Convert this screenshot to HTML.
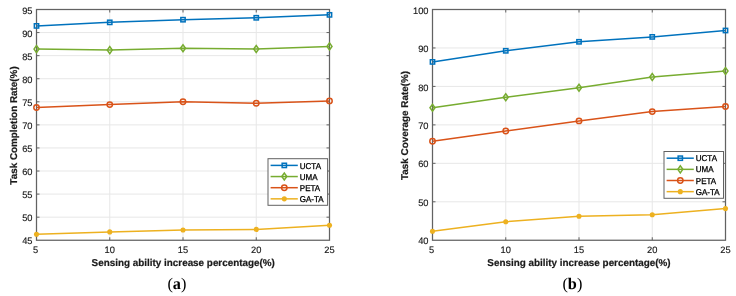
<!DOCTYPE html>
<html><head><meta charset="utf-8"><style>
html,body{margin:0;padding:0;background:#fff;}
body{width:736px;height:296px;overflow:hidden;}
svg{display:block;will-change:transform;text-rendering:geometricPrecision;}
.tk{font-family:"Liberation Sans",sans-serif;font-size:9.3px;fill:#1a1a1a;stroke:#1a1a1a;stroke-width:0.15px;}
.lb{font-family:"Liberation Sans",sans-serif;font-size:9.9px;font-weight:bold;fill:#1a1a1a;stroke:#1a1a1a;stroke-width:0.2px;}
.lg{font-family:"Liberation Sans",sans-serif;font-size:8.5px;fill:#000;stroke:#000;stroke-width:0.3px;}
.cap{font-family:"Liberation Serif",serif;font-size:16.3px;fill:#000;}
</style></head><body>
<svg width="736" height="296" viewBox="0 0 736 296">
<rect width="736" height="296" fill="#fff"/>
<line x1="109.75" y1="9.5" x2="109.75" y2="240.25" stroke="#e7e7e7" stroke-width="1"/>
<line x1="183.00" y1="9.5" x2="183.00" y2="240.25" stroke="#e7e7e7" stroke-width="1"/>
<line x1="256.25" y1="9.5" x2="256.25" y2="240.25" stroke="#e7e7e7" stroke-width="1"/>
<line x1="36.5" y1="217.18" x2="329.5" y2="217.18" stroke="#e7e7e7" stroke-width="1"/>
<line x1="36.5" y1="194.10" x2="329.5" y2="194.10" stroke="#e7e7e7" stroke-width="1"/>
<line x1="36.5" y1="171.03" x2="329.5" y2="171.03" stroke="#e7e7e7" stroke-width="1"/>
<line x1="36.5" y1="147.95" x2="329.5" y2="147.95" stroke="#e7e7e7" stroke-width="1"/>
<line x1="36.5" y1="124.88" x2="329.5" y2="124.88" stroke="#e7e7e7" stroke-width="1"/>
<line x1="36.5" y1="101.80" x2="329.5" y2="101.80" stroke="#e7e7e7" stroke-width="1"/>
<line x1="36.5" y1="78.72" x2="329.5" y2="78.72" stroke="#e7e7e7" stroke-width="1"/>
<line x1="36.5" y1="55.65" x2="329.5" y2="55.65" stroke="#e7e7e7" stroke-width="1"/>
<line x1="36.5" y1="32.57" x2="329.5" y2="32.57" stroke="#e7e7e7" stroke-width="1"/>
<line x1="109.75" y1="240.25" x2="109.75" y2="237.25" stroke="#626262" stroke-width="1"/>
<line x1="109.75" y1="9.5" x2="109.75" y2="12.5" stroke="#626262" stroke-width="1"/>
<line x1="183.00" y1="240.25" x2="183.00" y2="237.25" stroke="#626262" stroke-width="1"/>
<line x1="183.00" y1="9.5" x2="183.00" y2="12.5" stroke="#626262" stroke-width="1"/>
<line x1="256.25" y1="240.25" x2="256.25" y2="237.25" stroke="#626262" stroke-width="1"/>
<line x1="256.25" y1="9.5" x2="256.25" y2="12.5" stroke="#626262" stroke-width="1"/>
<line x1="36.5" y1="217.18" x2="39.5" y2="217.18" stroke="#626262" stroke-width="1"/>
<line x1="329.5" y1="217.18" x2="326.5" y2="217.18" stroke="#626262" stroke-width="1"/>
<line x1="36.5" y1="194.10" x2="39.5" y2="194.10" stroke="#626262" stroke-width="1"/>
<line x1="329.5" y1="194.10" x2="326.5" y2="194.10" stroke="#626262" stroke-width="1"/>
<line x1="36.5" y1="171.03" x2="39.5" y2="171.03" stroke="#626262" stroke-width="1"/>
<line x1="329.5" y1="171.03" x2="326.5" y2="171.03" stroke="#626262" stroke-width="1"/>
<line x1="36.5" y1="147.95" x2="39.5" y2="147.95" stroke="#626262" stroke-width="1"/>
<line x1="329.5" y1="147.95" x2="326.5" y2="147.95" stroke="#626262" stroke-width="1"/>
<line x1="36.5" y1="124.88" x2="39.5" y2="124.88" stroke="#626262" stroke-width="1"/>
<line x1="329.5" y1="124.88" x2="326.5" y2="124.88" stroke="#626262" stroke-width="1"/>
<line x1="36.5" y1="101.80" x2="39.5" y2="101.80" stroke="#626262" stroke-width="1"/>
<line x1="329.5" y1="101.80" x2="326.5" y2="101.80" stroke="#626262" stroke-width="1"/>
<line x1="36.5" y1="78.72" x2="39.5" y2="78.72" stroke="#626262" stroke-width="1"/>
<line x1="329.5" y1="78.72" x2="326.5" y2="78.72" stroke="#626262" stroke-width="1"/>
<line x1="36.5" y1="55.65" x2="39.5" y2="55.65" stroke="#626262" stroke-width="1"/>
<line x1="329.5" y1="55.65" x2="326.5" y2="55.65" stroke="#626262" stroke-width="1"/>
<line x1="36.5" y1="32.57" x2="39.5" y2="32.57" stroke="#626262" stroke-width="1"/>
<line x1="329.5" y1="32.57" x2="326.5" y2="32.57" stroke="#626262" stroke-width="1"/>
<rect x="36.5" y="9.5" width="293.0" height="230.75" fill="none" stroke="#626262" stroke-width="1.25"/>
<text x="32.50" y="244.35" class="tk" text-anchor="end">45</text>
<text x="32.50" y="221.28" class="tk" text-anchor="end">50</text>
<text x="32.50" y="198.20" class="tk" text-anchor="end">55</text>
<text x="32.50" y="175.12" class="tk" text-anchor="end">60</text>
<text x="32.50" y="152.05" class="tk" text-anchor="end">65</text>
<text x="32.50" y="128.97" class="tk" text-anchor="end">70</text>
<text x="32.50" y="105.90" class="tk" text-anchor="end">75</text>
<text x="32.50" y="82.82" class="tk" text-anchor="end">80</text>
<text x="32.50" y="59.75" class="tk" text-anchor="end">85</text>
<text x="32.50" y="36.67" class="tk" text-anchor="end">90</text>
<text x="32.50" y="13.60" class="tk" text-anchor="end">95</text>
<text x="35.60" y="252.9" class="tk" text-anchor="middle">5</text>
<text x="109.75" y="252.9" class="tk" text-anchor="middle">10</text>
<text x="183.00" y="252.9" class="tk" text-anchor="middle">15</text>
<text x="256.25" y="252.9" class="tk" text-anchor="middle">20</text>
<text x="329.50" y="252.9" class="tk" text-anchor="middle">25</text>
<polyline points="36.50,25.90 109.75,22.35 183.00,19.70 256.25,17.80 329.50,14.85" fill="none" stroke="#0072BD" stroke-width="1.5" stroke-linejoin="round"/>
<rect x="34.35" y="23.75" width="4.30" height="4.30" fill="none" stroke="#0072BD" stroke-width="1.5"/>
<rect x="107.60" y="20.20" width="4.30" height="4.30" fill="none" stroke="#0072BD" stroke-width="1.5"/>
<rect x="180.85" y="17.55" width="4.30" height="4.30" fill="none" stroke="#0072BD" stroke-width="1.5"/>
<rect x="254.10" y="15.65" width="4.30" height="4.30" fill="none" stroke="#0072BD" stroke-width="1.5"/>
<rect x="327.35" y="12.70" width="4.30" height="4.30" fill="none" stroke="#0072BD" stroke-width="1.5"/>
<polyline points="36.50,49.10 109.75,50.10 183.00,48.30 256.25,49.00 329.50,46.40" fill="none" stroke="#77AC30" stroke-width="1.5" stroke-linejoin="round"/>
<path d="M34.00,49.10 L36.50,45.60 L39.00,49.10 L36.50,52.60 Z" fill="none" stroke="#77AC30" stroke-width="1.5"/>
<path d="M107.25,50.10 L109.75,46.60 L112.25,50.10 L109.75,53.60 Z" fill="none" stroke="#77AC30" stroke-width="1.5"/>
<path d="M180.50,48.30 L183.00,44.80 L185.50,48.30 L183.00,51.80 Z" fill="none" stroke="#77AC30" stroke-width="1.5"/>
<path d="M253.75,49.00 L256.25,45.50 L258.75,49.00 L256.25,52.50 Z" fill="none" stroke="#77AC30" stroke-width="1.5"/>
<path d="M327.00,46.40 L329.50,42.90 L332.00,46.40 L329.50,49.90 Z" fill="none" stroke="#77AC30" stroke-width="1.5"/>
<polyline points="36.50,107.50 109.75,104.60 183.00,101.80 256.25,103.25 329.50,100.90" fill="none" stroke="#D95319" stroke-width="1.5" stroke-linejoin="round"/>
<circle cx="36.50" cy="107.50" r="2.70" fill="none" stroke="#D95319" stroke-width="1.5"/>
<circle cx="109.75" cy="104.60" r="2.70" fill="none" stroke="#D95319" stroke-width="1.5"/>
<circle cx="183.00" cy="101.80" r="2.70" fill="none" stroke="#D95319" stroke-width="1.5"/>
<circle cx="256.25" cy="103.25" r="2.70" fill="none" stroke="#D95319" stroke-width="1.5"/>
<circle cx="329.50" cy="100.90" r="2.70" fill="none" stroke="#D95319" stroke-width="1.5"/>
<polyline points="36.50,234.30 109.75,231.90 183.00,230.00 256.25,229.40 329.50,225.25" fill="none" stroke="#EDB120" stroke-width="1.5" stroke-linejoin="round"/>
<circle cx="36.50" cy="234.30" r="2.55" fill="#EDB120" stroke="none"/>
<circle cx="109.75" cy="231.90" r="2.55" fill="#EDB120" stroke="none"/>
<circle cx="183.00" cy="230.00" r="2.55" fill="#EDB120" stroke="none"/>
<circle cx="256.25" cy="229.40" r="2.55" fill="#EDB120" stroke="none"/>
<circle cx="329.50" cy="225.25" r="2.55" fill="#EDB120" stroke="none"/>
<text x="183.25" y="265.9" class="lb" text-anchor="middle">Sensing ability increase percentage(%)</text>
<text transform="translate(17.4,125.47) rotate(-90)" class="lb" text-anchor="middle">Task Completion Rate(%)</text>
<rect x="268.0" y="158.7" width="59.60000000000002" height="46.60000000000002" fill="#fff" stroke="#626262" stroke-width="1"/>
<line x1="270.6" y1="165.40" x2="297.8" y2="165.40" stroke="#0072BD" stroke-width="1.5"/>
<rect x="282.15" y="163.25" width="4.30" height="4.30" fill="none" stroke="#0072BD" stroke-width="1.5"/>
<text transform="translate(299.80,168.50) scale(0.94,1)" class="lg">UCTA</text>
<line x1="270.6" y1="176.55" x2="297.8" y2="176.55" stroke="#77AC30" stroke-width="1.5"/>
<path d="M281.80,176.55 L284.30,173.05 L286.80,176.55 L284.30,180.05 Z" fill="none" stroke="#77AC30" stroke-width="1.5"/>
<text transform="translate(299.80,179.65) scale(0.94,1)" class="lg">UMA</text>
<line x1="270.6" y1="187.70" x2="297.8" y2="187.70" stroke="#D95319" stroke-width="1.5"/>
<circle cx="284.30" cy="187.70" r="2.70" fill="none" stroke="#D95319" stroke-width="1.5"/>
<text transform="translate(299.80,190.80) scale(0.94,1)" class="lg">PETA</text>
<line x1="270.6" y1="198.85" x2="297.8" y2="198.85" stroke="#EDB120" stroke-width="1.5"/>
<circle cx="284.30" cy="198.85" r="2.55" fill="#EDB120" stroke="none"/>
<text transform="translate(299.80,201.95) scale(0.94,1)" class="lg">GA-TA</text>
<line x1="505.75" y1="9.5" x2="505.75" y2="240.25" stroke="#e7e7e7" stroke-width="1"/>
<line x1="579.00" y1="9.5" x2="579.00" y2="240.25" stroke="#e7e7e7" stroke-width="1"/>
<line x1="652.25" y1="9.5" x2="652.25" y2="240.25" stroke="#e7e7e7" stroke-width="1"/>
<line x1="432.5" y1="201.79" x2="725.5" y2="201.79" stroke="#e7e7e7" stroke-width="1"/>
<line x1="432.5" y1="163.33" x2="725.5" y2="163.33" stroke="#e7e7e7" stroke-width="1"/>
<line x1="432.5" y1="124.88" x2="725.5" y2="124.88" stroke="#e7e7e7" stroke-width="1"/>
<line x1="432.5" y1="86.42" x2="725.5" y2="86.42" stroke="#e7e7e7" stroke-width="1"/>
<line x1="432.5" y1="47.96" x2="725.5" y2="47.96" stroke="#e7e7e7" stroke-width="1"/>
<line x1="505.75" y1="240.25" x2="505.75" y2="237.25" stroke="#626262" stroke-width="1"/>
<line x1="505.75" y1="9.5" x2="505.75" y2="12.5" stroke="#626262" stroke-width="1"/>
<line x1="579.00" y1="240.25" x2="579.00" y2="237.25" stroke="#626262" stroke-width="1"/>
<line x1="579.00" y1="9.5" x2="579.00" y2="12.5" stroke="#626262" stroke-width="1"/>
<line x1="652.25" y1="240.25" x2="652.25" y2="237.25" stroke="#626262" stroke-width="1"/>
<line x1="652.25" y1="9.5" x2="652.25" y2="12.5" stroke="#626262" stroke-width="1"/>
<line x1="432.5" y1="201.79" x2="435.5" y2="201.79" stroke="#626262" stroke-width="1"/>
<line x1="725.5" y1="201.79" x2="722.5" y2="201.79" stroke="#626262" stroke-width="1"/>
<line x1="432.5" y1="163.33" x2="435.5" y2="163.33" stroke="#626262" stroke-width="1"/>
<line x1="725.5" y1="163.33" x2="722.5" y2="163.33" stroke="#626262" stroke-width="1"/>
<line x1="432.5" y1="124.88" x2="435.5" y2="124.88" stroke="#626262" stroke-width="1"/>
<line x1="725.5" y1="124.88" x2="722.5" y2="124.88" stroke="#626262" stroke-width="1"/>
<line x1="432.5" y1="86.42" x2="435.5" y2="86.42" stroke="#626262" stroke-width="1"/>
<line x1="725.5" y1="86.42" x2="722.5" y2="86.42" stroke="#626262" stroke-width="1"/>
<line x1="432.5" y1="47.96" x2="435.5" y2="47.96" stroke="#626262" stroke-width="1"/>
<line x1="725.5" y1="47.96" x2="722.5" y2="47.96" stroke="#626262" stroke-width="1"/>
<rect x="432.5" y="9.5" width="293.0" height="230.75" fill="none" stroke="#626262" stroke-width="1.25"/>
<text x="428.50" y="244.35" class="tk" text-anchor="end">40</text>
<text x="428.50" y="205.89" class="tk" text-anchor="end">50</text>
<text x="428.50" y="167.43" class="tk" text-anchor="end">60</text>
<text x="428.50" y="128.97" class="tk" text-anchor="end">70</text>
<text x="428.50" y="90.52" class="tk" text-anchor="end">80</text>
<text x="428.50" y="52.06" class="tk" text-anchor="end">90</text>
<text x="428.50" y="13.60" class="tk" text-anchor="end">100</text>
<text x="431.60" y="252.9" class="tk" text-anchor="middle">5</text>
<text x="505.75" y="252.9" class="tk" text-anchor="middle">10</text>
<text x="579.00" y="252.9" class="tk" text-anchor="middle">15</text>
<text x="652.25" y="252.9" class="tk" text-anchor="middle">20</text>
<text x="725.50" y="252.9" class="tk" text-anchor="middle">25</text>
<polyline points="432.50,61.90 505.75,50.80 579.00,41.80 652.25,36.90 725.50,30.50" fill="none" stroke="#0072BD" stroke-width="1.5" stroke-linejoin="round"/>
<rect x="430.35" y="59.75" width="4.30" height="4.30" fill="none" stroke="#0072BD" stroke-width="1.5"/>
<rect x="503.60" y="48.65" width="4.30" height="4.30" fill="none" stroke="#0072BD" stroke-width="1.5"/>
<rect x="576.85" y="39.65" width="4.30" height="4.30" fill="none" stroke="#0072BD" stroke-width="1.5"/>
<rect x="650.10" y="34.75" width="4.30" height="4.30" fill="none" stroke="#0072BD" stroke-width="1.5"/>
<rect x="723.35" y="28.35" width="4.30" height="4.30" fill="none" stroke="#0072BD" stroke-width="1.5"/>
<polyline points="432.50,107.80 505.75,97.25 579.00,87.80 652.25,77.05 725.50,70.95" fill="none" stroke="#77AC30" stroke-width="1.5" stroke-linejoin="round"/>
<path d="M430.00,107.80 L432.50,104.30 L435.00,107.80 L432.50,111.30 Z" fill="none" stroke="#77AC30" stroke-width="1.5"/>
<path d="M503.25,97.25 L505.75,93.75 L508.25,97.25 L505.75,100.75 Z" fill="none" stroke="#77AC30" stroke-width="1.5"/>
<path d="M576.50,87.80 L579.00,84.30 L581.50,87.80 L579.00,91.30 Z" fill="none" stroke="#77AC30" stroke-width="1.5"/>
<path d="M649.75,77.05 L652.25,73.55 L654.75,77.05 L652.25,80.55 Z" fill="none" stroke="#77AC30" stroke-width="1.5"/>
<path d="M723.00,70.95 L725.50,67.45 L728.00,70.95 L725.50,74.45 Z" fill="none" stroke="#77AC30" stroke-width="1.5"/>
<polyline points="432.50,141.20 505.75,130.95 579.00,120.90 652.25,111.60 725.50,106.50" fill="none" stroke="#D95319" stroke-width="1.5" stroke-linejoin="round"/>
<circle cx="432.50" cy="141.20" r="2.70" fill="none" stroke="#D95319" stroke-width="1.5"/>
<circle cx="505.75" cy="130.95" r="2.70" fill="none" stroke="#D95319" stroke-width="1.5"/>
<circle cx="579.00" cy="120.90" r="2.70" fill="none" stroke="#D95319" stroke-width="1.5"/>
<circle cx="652.25" cy="111.60" r="2.70" fill="none" stroke="#D95319" stroke-width="1.5"/>
<circle cx="725.50" cy="106.50" r="2.70" fill="none" stroke="#D95319" stroke-width="1.5"/>
<polyline points="432.50,231.30 505.75,221.70 579.00,216.20 652.25,214.75 725.50,208.60" fill="none" stroke="#EDB120" stroke-width="1.5" stroke-linejoin="round"/>
<circle cx="432.50" cy="231.30" r="2.55" fill="#EDB120" stroke="none"/>
<circle cx="505.75" cy="221.70" r="2.55" fill="#EDB120" stroke="none"/>
<circle cx="579.00" cy="216.20" r="2.55" fill="#EDB120" stroke="none"/>
<circle cx="652.25" cy="214.75" r="2.55" fill="#EDB120" stroke="none"/>
<circle cx="725.50" cy="208.60" r="2.55" fill="#EDB120" stroke="none"/>
<text x="579.00" y="265.9" class="lb" text-anchor="middle">Sensing ability increase percentage(%)</text>
<text transform="translate(408.2,125.47) rotate(-90)" class="lb" text-anchor="middle">Task Coverage Rate(%)</text>
<rect x="664.0" y="151.5" width="59.5" height="46.80000000000001" fill="#fff" stroke="#626262" stroke-width="1"/>
<line x1="666.6" y1="158.20" x2="693.8" y2="158.20" stroke="#0072BD" stroke-width="1.5"/>
<rect x="678.15" y="156.05" width="4.30" height="4.30" fill="none" stroke="#0072BD" stroke-width="1.5"/>
<text transform="translate(695.80,161.30) scale(0.94,1)" class="lg">UCTA</text>
<line x1="666.6" y1="169.35" x2="693.8" y2="169.35" stroke="#77AC30" stroke-width="1.5"/>
<path d="M677.80,169.35 L680.30,165.85 L682.80,169.35 L680.30,172.85 Z" fill="none" stroke="#77AC30" stroke-width="1.5"/>
<text transform="translate(695.80,172.45) scale(0.94,1)" class="lg">UMA</text>
<line x1="666.6" y1="180.50" x2="693.8" y2="180.50" stroke="#D95319" stroke-width="1.5"/>
<circle cx="680.30" cy="180.50" r="2.70" fill="none" stroke="#D95319" stroke-width="1.5"/>
<text transform="translate(695.80,183.60) scale(0.94,1)" class="lg">PETA</text>
<line x1="666.6" y1="191.65" x2="693.8" y2="191.65" stroke="#EDB120" stroke-width="1.5"/>
<circle cx="680.30" cy="191.65" r="2.55" fill="#EDB120" stroke="none"/>
<text transform="translate(695.80,194.75) scale(0.94,1)" class="lg">GA-TA</text>
<text x="167.4" y="289" class="cap">(<tspan font-weight="bold">a</tspan>)</text>
<text x="562.4" y="289" class="cap">(<tspan font-weight="bold">b</tspan>)</text>
</svg>
</body></html>
